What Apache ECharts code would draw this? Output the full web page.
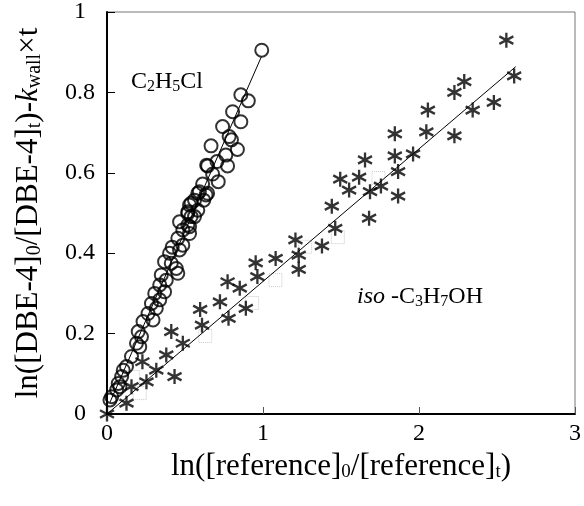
<!DOCTYPE html>
<html>
<head>
<meta charset="utf-8">
<script src="https://cdn.jsdelivr.net/npm/echarts@6/dist/echarts.min.js"></script>
<style>
html,body{margin:0;padding:0;background:#fff;}
#chart{width:584px;height:506px;}
</style>
</head>
<body>
<div id="chart"></div>
<script>
// C2H5Cl points [x, y]
var c2h5clPts = [
    [0.019,0.035],[0.03,0.043],[0.062,0.06],[0.083,0.068],[0.072,0.076],[0.094,0.093],
    [0.104,0.109],[0.125,0.118],[0.157,0.143],[0.21,0.167],[0.189,0.176],[0.221,0.192],
    [0.2,0.205],[0.231,0.23],[0.295,0.234],[0.263,0.25],[0.316,0.263],[0.285,0.275],
    [0.338,0.284],[0.306,0.3],[0.369,0.304],[0.338,0.321],[0.38,0.333],[0.348,0.346],
    [0.454,0.35],[0.444,0.362],[0.412,0.375],[0.369,0.379],[0.401,0.4],[0.465,0.408],
    [0.418,0.415],[0.486,0.42],[0.454,0.437],[0.529,0.449],[0.486,0.458],[0.529,0.466],
    [0.518,0.47],[0.465,0.478],[0.561,0.491],[0.539,0.491],[0.518,0.499],[0.518,0.503],
    [0.582,0.507],[0.529,0.52],[0.539,0.524],[0.62,0.532],[0.561,0.532],[0.635,0.545],
    [0.582,0.549],[0.645,0.549],[0.592,0.553],[0.613,0.572],[0.713,0.578],[0.677,0.597],
    [0.645,0.617],[0.773,0.617],[0.639,0.619],[0.705,0.628],[0.762,0.644],[0.836,0.658],
    [0.667,0.667],[0.798,0.682],[0.783,0.69],[0.741,0.715],[0.858,0.727],[0.805,0.752],
    [0.906,0.779],[0.858,0.794],[0.992,0.905]
];
// iso-C3H7OH points [x, y]
var isoPts = [
    [0.0,0.0],[0.125,0.027],[0.157,0.068],[0.253,0.08],[0.433,0.093],[0.316,0.109],
    [0.227,0.13],[0.38,0.147],[0.486,0.176],[0.412,0.205],[0.609,0.221],[0.779,0.238],
    [0.597,0.26],[0.89,0.263],[0.724,0.279],[0.851,0.313],[0.773,0.329],[0.964,0.342],
    [1.229,0.36],[0.953,0.376],[1.081,0.387],[1.229,0.395],[1.378,0.418],[1.208,0.433],
    [1.463,0.462],[1.68,0.487],[1.441,0.517],[1.866,0.542],[1.686,0.553],[1.552,0.557],
    [1.756,0.567],[1.495,0.584],[1.616,0.589],[1.866,0.603],[1.654,0.632],[1.845,0.642],
    [1.962,0.647],[2.227,0.692],[1.845,0.697],[2.047,0.702],[2.057,0.756],[2.344,0.756],
    [2.48,0.775],[2.227,0.8],[2.29,0.827],[2.61,0.841],[2.56,0.93]
];
// faint dotted marks
var ghostPts = [
    [0.166,0.092],[0.21,0.052],[0.63,0.194],[0.93,0.276],[1.08,0.333],
    [1.27,0.416],[1.48,0.44],[1.74,0.587]
];
// fitted lines
var c2h5clFit = [[0.02,0.03],[0.99,0.889]];
var isoFit = [[0.0,0.0],[2.62,0.864]];

var xTicks = [0,1,2,3];
var yTicks = [0,0.2,0.4,0.6,0.8,1];

var serif = 'Liberation Serif';
var starPath = 'path://M10,0 L10,20 M1.34,5 L18.66,15 M1.34,15 L18.66,5';

var chart = echarts.init(document.getElementById('chart'));
var option = {
    animation: false,
    backgroundColor: '#fff',
    grid: {
        left: 107, right: 6, top: 12, bottom: 92,
        show: true, borderColor: '#777', borderWidth: 1
    },
    xAxis: {
        type: 'value',
        min: xTicks[0], max: xTicks[xTicks.length - 1], interval: 1,
        name: 'ln([reference]{sub|0}/[reference]{sub|t})',
        nameLocation: 'middle',
        nameGap: 34,
        nameTextStyle: {
            fontFamily: serif, fontSize: 31, color: '#000',
            rich: { sub: { fontFamily: serif, fontSize: 19, color: '#000', verticalAlign: 'bottom', padding: [12, 0, 0, 0] } }
        },
        axisLine: { lineStyle: { color: '#000', width: 2 } },
        axisTick: { inside: true, length: 7, lineStyle: { color: '#555' } },
        axisLabel: { fontFamily: serif, fontSize: 24, color: '#000', margin: 8 },
        splitLine: { show: false }
    },
    yAxis: {
        type: 'value',
        min: yTicks[0], max: yTicks[yTicks.length - 1], interval: 0.2,
        name: 'ln([DBE-4]{sub|0}/[DBE-4]{sub|t})-{it|k}{sub|wall}×t',
        nameLocation: 'middle',
        nameRotate: 90,
        nameGap: 62,
        nameTextStyle: {
            fontFamily: serif, fontSize: 31, color: '#000',
            rich: {
                sub: { fontFamily: serif, fontSize: 20, color: '#000', verticalAlign: 'bottom', padding: [12, 0, 0, 0] },
                it: { fontFamily: serif, fontSize: 31, fontStyle: 'italic', color: '#000' }
            }
        },
        axisLine: { lineStyle: { color: '#000', width: 2 } },
        axisTick: { inside: true, length: 8, lineStyle: { color: '#000' } },
        axisLabel: { fontFamily: serif, fontSize: 24, color: '#000', margin: 27, align: 'center' },
        splitLine: { show: false }
    },
    graphic: [
        {
            type: 'text', left: 131, top: 70,
            style: {
                text: 'C{s|2}H{s|5}Cl',
                font: '24px "Liberation Serif"', fill: '#000',
                rich: { s: { fontFamily: serif, fontSize: 16, fill: '#000', verticalAlign: 'bottom', padding: [10, 0, 0, 0] } }
            }
        },
        {
            type: 'text', left: 357, top: 285,
            style: {
                text: '{i|iso} -C{s|3}H{s|7}OH',
                font: '24px "Liberation Serif"', fill: '#000',
                rich: {
                    i: { fontFamily: serif, fontSize: 24, fontStyle: 'italic', fill: '#000' },
                    s: { fontFamily: serif, fontSize: 16, fill: '#000', verticalAlign: 'bottom', padding: [10, 0, 0, 0] }
                }
            }
        }
    ],
    series: [
        {
            type: 'scatter', data: ghostPts, symbol: 'rect', symbolSize: 13,
            itemStyle: { color: 'transparent', borderColor: '#bbb', borderWidth: 1, borderType: 'dotted' },
            z: 1
        },
        {
            type: 'line', data: c2h5clFit, showSymbol: false, symbol: 'none',
            lineStyle: { color: '#000', width: 1 }, z: 2
        },
        {
            type: 'line', data: isoFit, showSymbol: false, symbol: 'none',
            lineStyle: { color: '#000', width: 1 }, z: 2
        },
        {
            type: 'scatter', data: c2h5clPts, symbol: 'circle', symbolSize: 13,
            itemStyle: { color: 'transparent', borderColor: '#000', borderWidth: 2 },
            z: 3
        },
        {
            type: 'scatter', data: isoPts, symbol: starPath, symbolSize: [14, 15],
            itemStyle: { color: 'transparent', borderColor: '#000', borderWidth: 2.4 },
            z: 3
        }
    ]
};
chart.setOption(option);
</script>
</body>
</html>
